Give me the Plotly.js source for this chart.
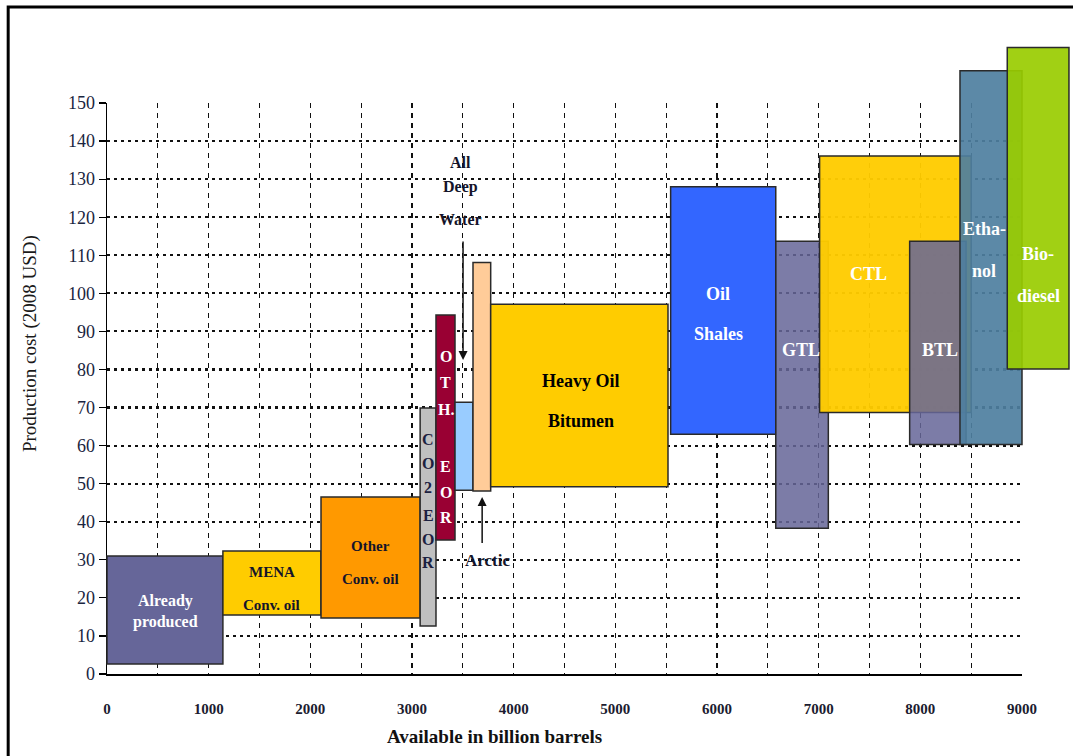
<!DOCTYPE html>
<html>
<head>
<meta charset="utf-8">
<script src="https://cdn.plot.ly/plotly-3.0.1.min.js"></script>
<style>
  html, body { margin: 0; padding: 0; background: #fff; }
  #chart { width: 1073px; height: 756px; }
</style>
</head>
<body>
<div id="chart"></div>
<script>
// ---------------- DATA ----------------
const resources = ["Already produced", "MENA Conv. oil", "Other Conv. oil", "CO2 EOR", "Other EOR",
  "All Deep Water", "Arctic", "Heavy Oil Bitumen", "Oil Shales", "GTL", "CTL", "BTL", "Ethanol", "Biodiesel"];
// cumulative availability (billion barrels): start and end of each block
const volStart = [0, 1140, 2105, 3080, 3236, 3423, 3600, 3774, 5544, 6578, 7009, 7895, 8390, 8855];
const volEnd   = [1140, 2105, 3080, 3236, 3423, 3600, 3774, 5518, 6578, 7095, 8500, 8450, 9000, 9462];
// production cost range (2008 USD)
const costLow  = [2.6, 15.5, 14.7, 12.6, 35.2, 48.3, 48.1, 49.2, 63.0, 38.3, 68.7, 60.3, 60.3, 80.1];
const costHigh = [31.0, 32.3, 46.5, 69.9, 94.3, 71.4, 108.1, 97.1, 128.0, 113.7, 136.1, 113.7, 158.5, 164.6];

const xTickValues = [0, 1000, 2000, 3000, 4000, 5000, 6000, 7000, 8000, 9000];
const xTickLabels = ["0", "1000", "2000", "3000", "4000", "5000", "6000", "7000", "8000", "9000"];
const yTickValues = [0, 10, 20, 30, 40, 50, 60, 70, 80, 90, 100, 110, 120, 130, 140, 150];

// ---------------- AXES / SCALES ----------------
const X_RANGE = [0, 9000];
const Y_RANGE = [0, 150];
// linear axis scale expressed as plot-area fraction (so blocks may overflow the frame)
const sx = v => (v - X_RANGE[0]) / (X_RANGE[1] - X_RANGE[0]);
const sy = v => (v - Y_RANGE[0]) / (Y_RANGE[1] - Y_RANGE[0]);

// ---------------- STYLES ----------------
const fills = ["#666699", "#FFCC00", "#FF9900", "#C0C0C0", "#990033", "#99CCFF", "#FFCC99", "#FFCC00",
  "#3366FF", "rgba(102,102,153,0.86)", "rgba(255,204,0,0.96)", "rgba(102,102,153,0.86)",
  "rgba(78,127,160,0.92)", "rgba(153,204,0,0.92)"];

const serif = "Liberation Serif, Times New Roman, serif";
const dark = "#14142a";

const shapes = [];
// outer frame of the figure
shapes.push({type: "rect", xref: "paper", yref: "paper", x0: -0.108, x1: 1.2, y0: -0.3, y1: 1.168,
  line: {color: "#000", width: 3}, fillcolor: "rgba(0,0,0,0)", layer: "below"});

resources.forEach((r, i) => shapes.push({
  type: "rect", xref: "paper", yref: "paper", layer: "above",
  x0: sx(volStart[i]), x1: sx(volEnd[i]), y0: sy(costLow[i]), y1: sy(costHigh[i]),
  fillcolor: fills[i], line: {color: "#2a2a2a", width: 1.5}
}));

const annotations = [];
function lbl(text, x, y, size, color) {
  annotations.push({text: text, x: sx(x), y: sy(y), xref: "paper", yref: "paper", showarrow: false,
    xanchor: "center", yanchor: "middle",
    font: {family: serif, size: size, color: color, weight: "bold"}});
}
function multi(lines, x, ys, size, color) { lines.forEach((t, k) => lbl(t, x, ys[k], size, color)); }

multi(["Already", "produced"], 575, [19.2, 13.7], 16, "#ffffff");
multi(["MENA", "Conv. oil"], 1620, [26.8, 18.1], 15, dark);
multi(["Other", "Conv. oil"], 2590, [33.6, 24.9], 15, dark);
multi(["C", "O", "2", "E", "O", "R"], 3158, [61.5, 55.2, 49.0, 41.6, 35.3, 29.2], 16, "#1c2140");
multi(["O", "T", "H.", "E", "O", "R"], 3330, [83.5, 76.7, 69.6, 54.6, 47.8, 41.0], 16, "#ffffff");
multi(["Heavy Oil", "Bitumen"], 4660, [77.0, 66.5], 18, "#000000");
multi(["Oil", "Shales"], 6010, [99.8, 89.3], 18, "#ffffff");
lbl("GTL", 6830, 85.1, 18, "#ffffff");
lbl("CTL", 7495, 105.1, 18, "#ffffff");
lbl("BTL", 8190, 85.1, 18, "#ffffff");
multi(["Etha-", "nol"], 8630, [116.9, 105.9], 18, "#ffffff");
multi(["Bio-", "diesel"], 9160, [110.3, 99.3], 18, "#ffffff");
multi(["All", "Deep", "Water"], 3480, [134.5, 127.9, 119.3], 16, dark);
lbl("Arctic", 3740, 29.7, 17, dark);

// arrows
annotations.push({x: 3502, y: 82.5, ax: 3502, ay: 114, xref: "x", yref: "y", axref: "x", ayref: "y",
  text: "", showarrow: true, arrowhead: 2, arrowsize: 1.2, arrowwidth: 1.5, arrowcolor: "#111"});
annotations.push({x: 3690, y: 46.5, ax: 3690, ay: 34, xref: "x", yref: "y", axref: "x", ayref: "y",
  text: "", showarrow: true, arrowhead: 2, arrowsize: 1.2, arrowwidth: 1.5, arrowcolor: "#111"});

// axis titles
annotations.push({text: "Production cost (2008 USD)", xref: "paper", yref: "paper", x: -0.084, y: 0.578,
  textangle: -90, showarrow: false, xanchor: "center", yanchor: "middle",
  font: {family: serif, size: 19, color: "#1a1a1a"}});
annotations.push({text: "Available in billion barrels", xref: "paper", yref: "paper", x: 0.423, y: -0.110,
  showarrow: false, xanchor: "center", yanchor: "middle",
  font: {family: serif, size: 19, color: "#111", weight: "bold"}});

// x ticks every 500 for dashed grid, labels every 1000
const xGridVals = [];
const xGridText = [];
for (let v = 0; v <= 9000; v += 500) {
  xGridVals.push(v);
  const k = xTickValues.indexOf(v);
  xGridText.push(k >= 0 ? xTickLabels[k] : "");
}

const layout = {
  width: 1073, height: 756,
  margin: {l: 107, r: 51, t: 103, b: 82, autoexpand: false},
  paper_bgcolor: "#ffffff", plot_bgcolor: "#ffffff",
  showlegend: false,
  xaxis: {
    range: X_RANGE, tickmode: "array", tickvals: xGridVals, ticktext: xGridText,
    showgrid: true, gridcolor: "#111", griddash: "5px,5px", gridwidth: 1.3,
    zeroline: false, showline: true, linecolor: "#000", linewidth: 1.5,
    ticks: "", ticklabelstandoff: 20,
    tickfont: {family: serif, size: 15, color: "#1c1c30", weight: "bold"},
    fixedrange: true
  },
  yaxis: {
    range: Y_RANGE, tickmode: "array", tickvals: yTickValues,
    showgrid: true, gridcolor: "#111", griddash: "3px,4px", gridwidth: 2.2,
    zeroline: false, showline: true, linecolor: "#000", linewidth: 1.5,
    ticks: "outside", ticklen: 7, tickwidth: 1.2, tickcolor: "#000",
    tickfont: {family: serif, size: 18, color: "#1a2540"},
    fixedrange: true
  },
  shapes: shapes,
  annotations: annotations
};

Plotly.newPlot("chart", [], layout, {displayModeBar: false, staticPlot: true});
</script>
</body>
</html>
